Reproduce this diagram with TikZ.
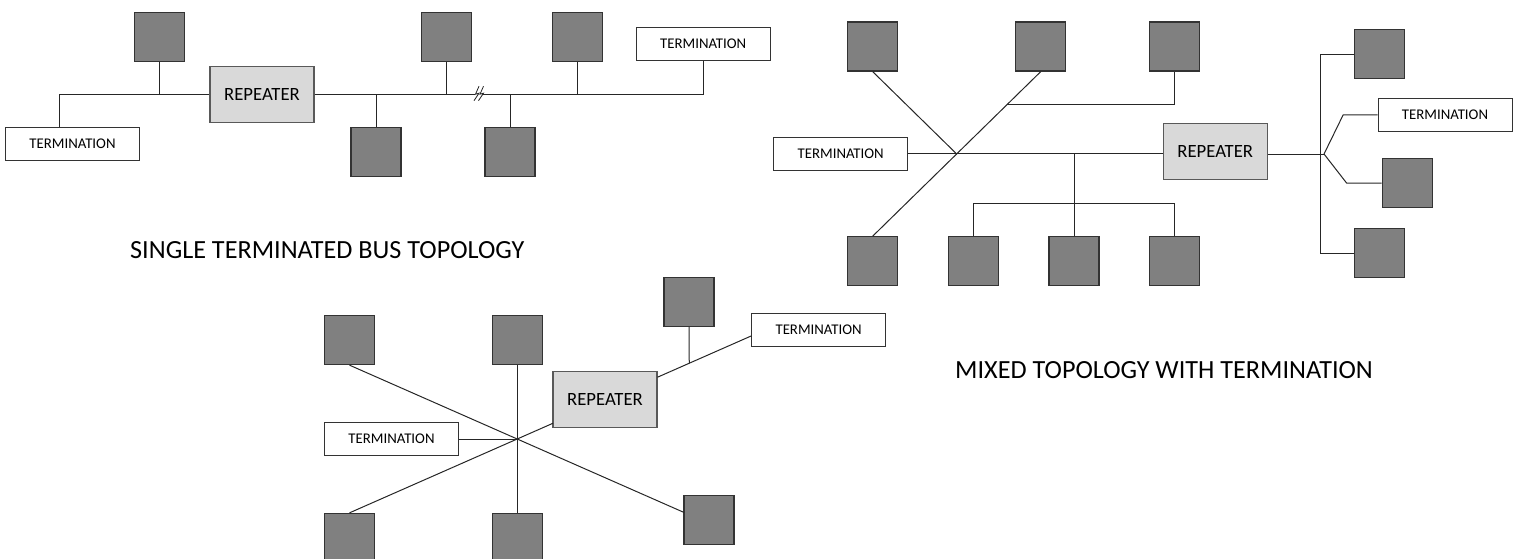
\documentclass[tikz,border=0pt]{standalone}
\usepackage{fontspec}
\setmainfont{Carlito}
\usetikzlibrary{calc}
\definecolor{devfill}{HTML}{808080}
\definecolor{devdraw}{HTML}{333333}
\definecolor{repfill}{HTML}{D9D9D9}
\definecolor{repdraw}{HTML}{595959}
\begin{document}
\begin{tikzpicture}[x=1pt,y=-1pt,
  dev/.style={draw=devdraw,fill=devfill,line width=1.3pt,minimum width=50pt,minimum height=49pt,inner sep=0pt},
  term/.style={draw=devdraw,fill=white,line width=1pt,minimum width=134pt,minimum height=33pt,inner sep=0pt,font=\fontsize{14.8}{16}\selectfont},
  rep/.style={draw=repdraw,fill=repfill,line width=1.2pt,minimum width=104pt,minimum height=56pt,inner sep=0pt,font=\fontsize{18.7}{20}\selectfont},
  wire/.style={line width=1pt,draw=black!85},
  brk/.style={line width=0.8pt,draw=black!85},
  title/.style={font=\fontsize{26.2}{30}\selectfont,anchor=base west,inner sep=0pt}]
\path[use as bounding box] (0,0) rectangle (1522,559);
\begin{scope}
\clip (0,0) rectangle (1522,559);
% ---------- single terminated bus ----------
\node[term] (t1) at (72.5,144) {TERMINATION};
\node[dev] (d1) at (159.5,36.7) {};
\node[rep] (r1) at (262,94.2) {REPEATER};
\node[dev] (d2) at (376,152) {};
\node[dev] (d3) at (446.5,36.7) {};
\node[dev] (d4) at (510,152) {};
\node[dev] (d5) at (577.5,36.7) {};
\node[term] (t2) at (703.2,44.2) {TERMINATION};
\coordinate (b1) at (59,94.2);
\coordinate (k1) at (475,94.2);
\coordinate (k2) at (483,94.2);
\draw[wire] (t1.north -| b1) -- (b1) -- (r1.west);
\draw[wire] (d1.south) -- (d1.south |- b1);
\draw[wire] (r1.east) -- (k1);
\draw[wire] (k2) -- (k2 -| t2.south) -- (t2.south);
\draw[wire] (d2.north) -- (d2.north |- b1);
\draw[wire] (d3.south) -- (d3.south |- b1);
\draw[wire] (d4.north) -- (d4.north |- b1);
\draw[wire] (d5.south) -- (d5.south |- b1);
\draw[brk] ($(k1)+(4,-8)$) -- ($(k1)+(0.5,0)$) -- ($(k1)+(4,-1)$) -- ($(k1)+(-1,6.5)$);
\draw[brk] ($(k1)+(8.5,-8)$) -- ($(k1)+(5,0)$) -- ($(k1)+(8.5,-1)$) -- ($(k1)+(3.5,6.5)$);
\node[title] (ti1) at (130,258.3) {SINGLE TERMINATED BUS TOPOLOGY};
% ---------- mixed topology ----------
\node[dev] (m1) at (872.7,46.5) {};
\node[dev] (m2) at (1040.7,46.5) {};
\node[dev] (m3) at (1174.8,46.5) {};
\node[term] (tm1) at (840.7,153.8) {TERMINATION};
\node[rep] (r2) at (1215.2,151.8) {REPEATER};
\node[dev] (m6) at (872.7,261.3) {};
\node[dev] (m7) at (973.5,261.3) {};
\node[dev] (m8) at (1074,261.3) {};
\node[dev] (m9) at (1174.8,261.3) {};
\node[dev] (m10) at (1379.5,54.3) {};
\node[term] (tm2) at (1445,115) {TERMINATION};
\node[dev] (m11) at (1407.2,183) {};
\node[dev] (m12) at (1379.5,253) {};
\coordinate (h2) at (956.7,154);
\coordinate (fan) at (1324,154);
\coordinate (vx) at (1320.3,154);
\coordinate (j2) at (1074,203.3);
\draw[wire] (m1.south) -- (h2);
\draw[wire] (m2.south) -- (m6.north);
\draw[wire] ($(m2.south)!0.198!(m6.north)$) -| (m3.south);
\draw[wire] (tm1.east) -- (tm1.east -| r2.west);
\draw[wire] (m8.north) -- (m8.north |- tm1.east);
\draw[wire] (m7.north) |- (j2) -| (m9.north);
\draw[wire] (r2.east |- fan) -- (fan);
\draw[wire] (fan) -- ($(tm2.west)+(-34.4,0)$) -- (tm2.west);
\draw[wire] (fan) -- ($(m11.west)+(-35,0)$) -- (m11.west);
\draw[wire] (m10.west) -| (vx) |- (m12.west);
\node[title] (ti2) at (955,378.3) {MIXED TOPOLOGY WITH TERMINATION};
% ---------- star topology ----------
\node[dev] (s1) at (349.5,340) {};
\node[dev] (s2) at (517.2,340) {};
\node[dev] (s3) at (689,301.7) {};
\node[term] (tm3) at (818.6,329.8) {TERMINATION};
\node[rep] (r3) at (605,399.2) {REPEATER};
\node[term] (tm4) at (391.5,439) {TERMINATION};
\node[dev] (s4) at (709.1,520.2) {};
\node[dev] (s5) at (349.5,538) {};
\node[dev] (s6) at (517.2,538) {};
\coordinate (h3) at (517.2,439);
\coordinate (c3) at ($(s5.north)!2.026!(h3)$);
\draw[wire] (s1.south) -- ($(s1.south)!1.995!(h3)$);
\draw[wire] (s2.south) -- (s6.north);
\draw[wire] (tm4.east) -- (h3);
\draw[wire] (s5.north) -- ($(s5.north)!1.2135!(h3)$);
\draw[wire] ($(s5.north)!1.836!(h3)$) -- ($(s5.north)!2.396!(h3)$);
\draw[wire] (s3.south) -- (c3);
\end{scope}
\end{tikzpicture}
\end{document}
